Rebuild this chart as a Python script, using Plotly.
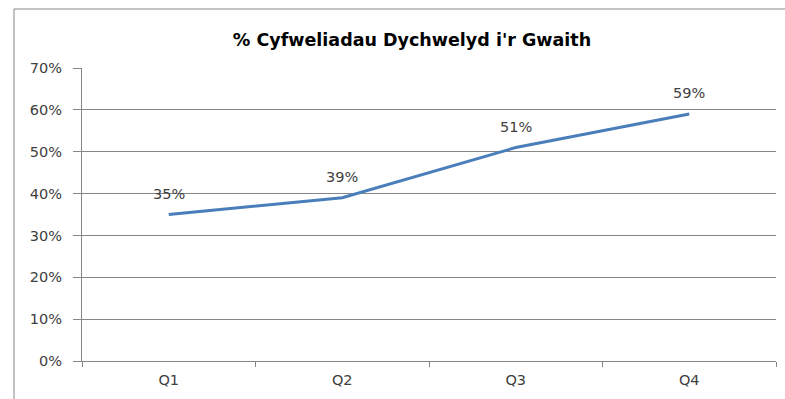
import plotly.graph_objects as go

quarters = ["Q1", "Q2", "Q3", "Q4"]
rates = [0.35, 0.39, 0.51, 0.59]
title_text = "% Cyfweliadau Dychwelyd i'r Gwaith"

W, H = 785, 399
L, R, T, B = 82, 9, 68, 38
pw, ph = W - L - R, H - T - B

axis_grey = "#868686"
text_grey = "#404040"
font_family = "DejaVu Sans, Verdana, sans-serif"

fig = go.Figure()
fig.add_trace(go.Scatter(
    x=quarters, y=rates,
    mode="lines",
    line=dict(color="#4A7EBB", width=3),
    hoverinfo="skip",
))

# value labels sitting just above each point
for q, v in zip(quarters, rates):
    fig.add_annotation(
        x=q, y=v, text=f"{v:.0%}", showarrow=False,
        yshift=21, xanchor="center", yanchor="middle",
        font=dict(family=font_family, size=14.5, color=text_grey),
    )

# outer chart frame (runs off the right and bottom edges)
fig.add_shape(type="rect", xref="paper", yref="paper",
              x0=(14 - L) / pw, x1=(W + 10 - L) / pw,
              y0=-(B + 10) / ph, y1=(H - B - 9) / ph,
              line=dict(color=axis_grey, width=1), layer="below")

fig.update_layout(
    width=W, height=H,
    margin=dict(l=L, r=R, t=T, b=B),
    paper_bgcolor="white", plot_bgcolor="white",
    showlegend=False,
    font=dict(family=font_family, color=text_grey),
    title=dict(text=f"<b>{title_text}</b>", xref="container", yref="container",
               x=412 / W, xanchor="center", y=1 - 40 / H, yanchor="middle",
               font=dict(family=font_family, size=17.5, color="black")),
)
fig.update_xaxes(
    type="category", range=[-0.5, 3.5],
    showline=True, linecolor=axis_grey, linewidth=1,
    ticks="outside", tickson="boundaries", ticklen=5, tickcolor=axis_grey,
    showgrid=False, zeroline=False,
    tickfont=dict(family=font_family, size=14.5, color=text_grey),
    ticklabelstandoff=6,
)
fig.update_yaxes(
    range=[0, 0.7], dtick=0.1, tickformat=".0%",
    showline=True, linecolor=axis_grey, linewidth=1,
    ticks="outside", ticklen=8, tickcolor=axis_grey,
    showgrid=True, gridcolor=axis_grey, gridwidth=1, zeroline=False,
    tickfont=dict(family=font_family, size=14.5, color=text_grey),
    ticklabelstandoff=8,
)

fig.write_html("out.html")
